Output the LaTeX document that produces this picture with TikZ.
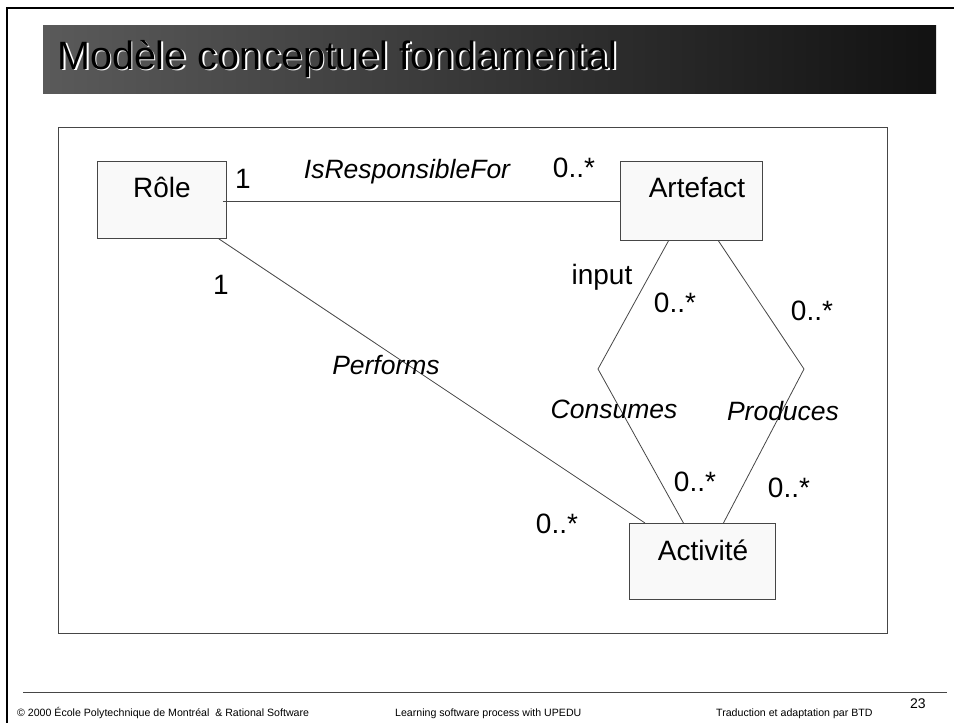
\documentclass[tikz,border=0pt]{standalone}
\usepackage{fontspec}
\setmainfont{Liberation Sans}
\definecolor{linec}{RGB}{70,70,70}
\definecolor{boxfill}{RGB}{249,249,249}
\definecolor{barL}{RGB}{90,90,90}
\definecolor{barR}{RGB}{18,18,18}
\newcommand{\shadowtext}[1]{\rlap{\hspace{1.8pt}\raisebox{-1.8pt}{\color{white}#1}}#1}
\begin{document}
\begin{tikzpicture}[x=1pt,y=-1pt,
  box/.style={draw=linec, fill=boxfill, line width=0.9pt, anchor=north west, inner sep=0pt},
  lbl/.style={font=\fontsize{28}{33}\selectfont, anchor=base, inner sep=0pt},
  rname/.style={font=\fontsize{26.5}{32}\selectfont\itshape, anchor=base, inner sep=0pt},
  conn/.style={draw=linec, line width=0.8pt},
  foot/.style={font=\fontsize{10.6}{13}\selectfont, anchor=base west, inner sep=0pt},
  ttl/.style={font=\fontsize{39.5}{46}\selectfont, anchor=base west, inner sep=0pt}]
\useasboundingbox (0,0) rectangle (954,723);
% outer border
\draw[line width=2.5pt, black] (7,723) -- (7,8) -- (954,8);
% title bar
\shade[left color=barL, right color=barR] (43,25) rectangle (936,93);
\node[ttl, black] (title) at (57,69) {\shadowtext{Modèle conceptuel fondamental}};
% diagram frame
\draw[linec, line width=0.9pt] (58,127) rectangle (887,633);
% boxes
\node[box, minimum width=129pt, minimum height=77pt] (role) at (97,161) {};
\node[box, minimum width=142pt, minimum height=79pt] (artefact) at (620,161) {};
\node[box, minimum width=146pt, minimum height=76pt] (activite) at (629,523) {};
\node[lbl] (roleT) at (162,197) {Rôle};
\node[lbl] (artefactT) at (697,197) {Artefact};
\node[lbl] (activiteT) at (703,560) {Activité};
% connectors
\coordinate (cv) at (598,369);
\coordinate (pv) at (804,369);
\draw[conn] ([xshift=-4pt]role.east |- 0,201) -- (artefact.west |- 0,201);
\draw[conn] ([xshift=-8pt]role.south east) -- ([xshift=16pt]activite.north west);
\draw[conn] ([xshift=-23pt]artefact.south) -- (cv) -- ([xshift=-19pt]activite.north);
\draw[conn] ([xshift=27pt]artefact.south) -- (pv) -- ([xshift=21pt]activite.north);
% labels
\node[lbl] (m1) at (243,188) {1};
\node[rname] (resp) at (407,178) {IsResponsibleFor};
\node[lbl] (m2) at (574,177) {0..*};
\node[lbl] (m3) at (221,294) {1};
\node[rname] (perf) at (386,374) {Performs};
\node[lbl] (m4) at (557,533) {0..*};
\node[lbl] (inp) at (602,284) {input};
\node[lbl] (m5) at (675,312) {0..*};
\node[lbl] (m6) at (812,320) {0..*};
\node[rname] (cons) at (614,418) {Consumes};
\node[rname] (prod) at (783,420) {Produces};
\node[lbl] (m7) at (695,491) {0..*};
\node[lbl] (m8) at (789,497) {0..*};
% footer
\draw[linec, line width=0.9pt] (23,692) -- (947,692);
\node[foot] (f1) at (17,716) {© 2000 École Polytechnique de Montréal \ \& Rational Software};
\node[foot] (f2) at (395,716) {Learning software process with UPEDU};
\node[foot] (f3) at (716,716) {Traduction et adaptation par BTD};
\node[foot, font=\fontsize{14}{16}\selectfont] (f4) at (910,708) {23};
\end{tikzpicture}
\end{document}
